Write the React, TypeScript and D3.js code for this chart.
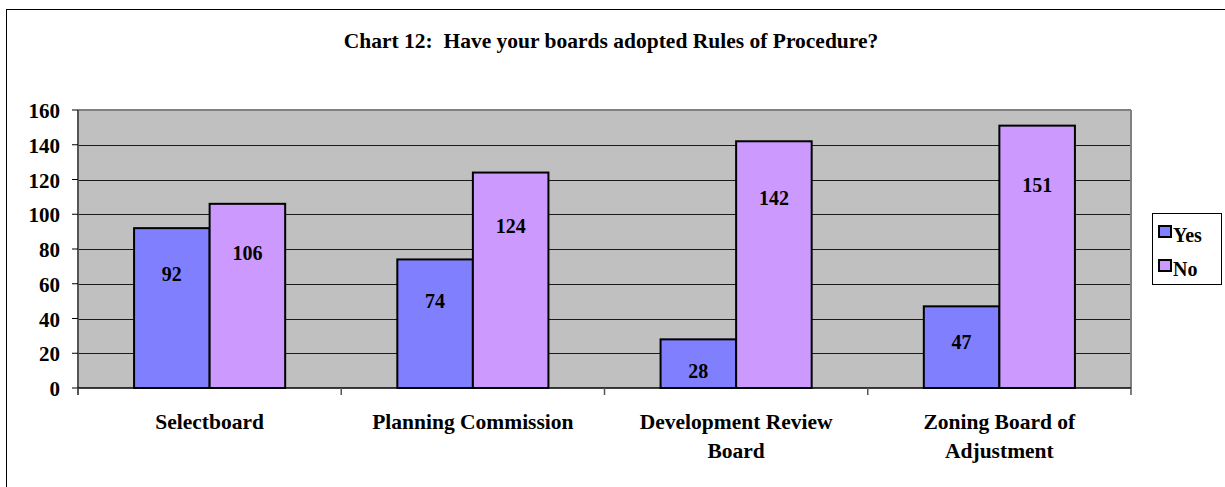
import React from "react";
import * as d3 from "d3";

const categories: string[][] = [
  ["Selectboard"],
  ["Planning Commission"],
  ["Development Review", "Board"],
  ["Zoning Board of", "Adjustment"],
];
const seriesNames = ["Yes", "No"];
const yesValues = [92, 74, 28, 47];
const noValues = [106, 124, 142, 151];
const yTicks = [0, 20, 40, 60, 80, 100, 120, 140, 160];
const title = "Chart 12:  Have your boards adopted Rules of Procedure?";

const colors = ["#8080FF", "#CC99FF"];
const FONT = "'Liberation Serif', 'DejaVu Serif', serif";

export default function App() {
  const W = 1225;
  const H = 487;
  const plot = { left: 78, right: 1131, top: 110, bottom: 388 };

  const y = d3.scaleLinear().domain([0, 160]).range([plot.bottom, plot.top]);
  const x0 = d3
    .scaleBand<number>()
    .domain(categories.map((_, i) => i))
    .range([plot.left, plot.right])
    .paddingInner(0.426)
    .paddingOuter(0.213);
  const x1 = d3
    .scaleBand<number>()
    .domain([0, 1])
    .range([0, x0.bandwidth()]);

  const series = [yesValues, noValues];
  const catEdges = d3.range(categories.length + 1).map(
    (i) => plot.left + (i * (plot.right - plot.left)) / categories.length
  );

  return (
    <svg
      width={W}
      height={H}
      style={{ position: "absolute", left: 0, top: 0, background: "#fff" }}
      fontFamily={FONT}
    >
      {/* outer frame */}
      <rect x={6.5} y={9.5} width={1400} height={700} fill="#fff" stroke="#000" strokeWidth={1} />

      {/* title */}
      <text
        x={611}
        y={48}
        textAnchor="middle"
        fontSize={21.5}
        fontWeight="bold"
        style={{ whiteSpace: "pre" }}
      >
        {title}
      </text>

      {/* plot background */}
      <rect
        x={plot.left}
        y={plot.top}
        width={plot.right - plot.left}
        height={plot.bottom - plot.top}
        fill="#C0C0C0"
      />

      {/* gridlines */}
      {yTicks
        .filter((t) => t > 0 && t < 160)
        .map((t) => (
          <line
            key={"g" + t}
            x1={plot.left}
            x2={plot.right}
            y1={Math.round(y(t)) + 0.5}
            y2={Math.round(y(t)) + 0.5}
            stroke="#1a1a1a"
            strokeWidth={1}
          />
        ))}
      {/* plot frame top and right */}
      <line x1={plot.left} x2={plot.right} y1={plot.top} y2={plot.top} stroke="#808080" strokeWidth={2} />
      <line x1={plot.right} x2={plot.right} y1={plot.top} y2={plot.bottom} stroke="#808080" strokeWidth={2} />

      {/* bars */}
      {series.map((vals, s) =>
        vals.map((v, i) => {
          const bx = (x0(i) as number) + (x1(s) as number);
          const by = y(v);
          const bh = plot.bottom - by;
          return (
            <rect
              key={`b${s}-${i}`}
              x={bx}
              y={by}
              width={x1.bandwidth()}
              height={bh}
              fill={colors[s]}
              stroke="#000"
              strokeWidth={2}
            />
          );
        })
      )}

      {/* value labels */}
      {series.map((vals, s) =>
        vals.map((v, i) => {
          const bx = (x0(i) as number) + (x1(s) as number) + x1.bandwidth() / 2;
          const by = y(v);
          const bh = plot.bottom - by;
          const cy = by + 25 + 0.13 * bh;
          return (
            <text
              key={`l${s}-${i}`}
              x={bx}
              y={cy + 7}
              textAnchor="middle"
              fontSize={20}
              fontWeight="bold"
            >
              {v}
            </text>
          );
        })
      )}

      {/* y axis */}
      <line x1={plot.left} x2={plot.left} y1={plot.top} y2={plot.bottom + 7} stroke="#555" strokeWidth={2} />
      {yTicks.map((t) => (
        <g key={"yt" + t}>
          <line x1={plot.left - 6} x2={plot.left} y1={y(t)} y2={y(t)} stroke="#000" strokeWidth={1} />
          <text x={60} y={y(t) + 8} textAnchor="end" fontSize={21} fontWeight="bold">
            {t}
          </text>
        </g>
      ))}

      {/* x axis */}
      <line x1={plot.left} x2={plot.right} y1={plot.bottom} y2={plot.bottom} stroke="#000" strokeWidth={1.5} />
      {catEdges.map((e, i) => (
        <line key={"xt" + i} x1={e} x2={e} y1={plot.bottom} y2={plot.bottom + 7} stroke="#555" strokeWidth={1.5} />
      ))}
      {categories.map((lines, i) => {
        const cx = (x0(i) as number) + x0.bandwidth() / 2;
        return (
          <text key={"c" + i} x={cx} textAnchor="middle" fontSize={21.5} fontWeight="bold">
            {lines.map((ln, j) => (
              <tspan key={j} x={cx} y={429 + j * 29}>
                {ln}
              </tspan>
            ))}
          </text>
        );
      })}

      {/* legend */}
      <rect x={1152.5} y={213.5} width={69} height={71} fill="#fff" stroke="#000" strokeWidth={1} />
      {seriesNames.map((n, s) => (
        <g key={"lg" + s}>
          <rect
            x={1159}
            y={226 + s * 34}
            width={12}
            height={11}
            fill={colors[s]}
            stroke="#000"
            strokeWidth={2}
          />
          <text x={1173} y={242 + s * 34} fontSize={20} fontWeight="bold">
            {n}
          </text>
        </g>
      ))}
    </svg>
  );
}
